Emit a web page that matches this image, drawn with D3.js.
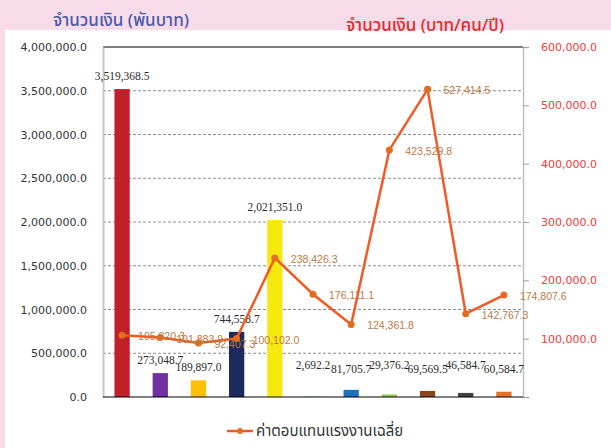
<!DOCTYPE html>
<html>
<head>
<meta charset="utf-8">
<script src="https://cdn.jsdelivr.net/npm/d3@7"></script>
<style>
  body { margin: 0; background: #f8dbe8; }
  svg { display: block; }
</style>
</head>
<body>
<div id="chart"></div>
<script>
// categories (no names shown on the chart)
var categories = ["1", "2", "3", "4", "5", "6", "7", "8", "9", "10", "11"];
// bars: amount in thousand baht
var amounts = [3519368.5, 273048.7, 189897.0, 744558.7, 2021351.0, 2692.2, 81705.7, 29376.2, 69569.5, 46584.7, 60584.7];
// line: average compensation (baht/person/year)
var wages = [105820.3, 101883.9, 92407.3, 100102.0, 238426.3, 176111.1, 124361.8, 423529.8, 527414.5, 142767.3, 174807.6];
var barColors = ["#c1202b", "#7030a0", "#ffc000", "#1f2a5c", "#f5e90f", "#1f6fbf", "#1f6fbf", "#92d050", "#8b461f", "#404040", "#e8702a"];
var leftTicks = [0, 500000, 1000000, 1500000, 2000000, 2500000, 3000000, 3500000, 4000000];
var rightTicks = [100000, 200000, 300000, 400000, 500000, 600000];

var width = 611, height = 448;
var margin = {top: 47, right: 88, bottom: 51, left: 103};
var thai = "'Noto Sans Thai', 'Noto Sans', 'DejaVu Sans', sans-serif";

var svg = d3.select("#chart").append("svg")
    .attr("width", width)
    .attr("height", height);

// white panel
svg.append("rect")
    .attr("x", 5).attr("y", 30)
    .attr("width", width - 5).attr("height", height - 30)
    .attr("fill", "#fff");

var x = d3.scaleBand()
    .domain(categories)
    .range([margin.left, width - margin.right])
    .paddingInner(0.6)
    .paddingOuter(0.3);

var y = d3.scaleLinear()
    .domain([0, 4000000])
    .range([height - margin.bottom, margin.top]);

var y2 = d3.scaleLinear()
    .domain([0, 600000])
    .range([height - margin.bottom, margin.top]);

var fmt = d3.format(",.1f");

// gridlines
svg.append("g").selectAll("line")
    .data(leftTicks.filter(function(d) { return d > 0 && d < 4000000; }))
    .enter().append("line")
    .attr("x1", margin.left).attr("x2", width - margin.right)
    .attr("y1", function(d) { return y(d); })
    .attr("y2", function(d) { return y(d); })
    .attr("stroke", "#8c8c8c")
    .attr("stroke-dasharray", "3,2");

// top border
svg.append("line")
    .attr("x1", margin.left).attr("x2", width - margin.right)
    .attr("y1", y(4000000)).attr("y2", y(4000000))
    .attr("stroke", "#000");

// left axis
var yAxis = svg.append("g")
    .attr("transform", "translate(" + margin.left + ",0)")
    .call(d3.axisLeft(y).tickValues(leftTicks).tickFormat(fmt).tickSize(0).tickPadding(16));
yAxis.select(".domain").attr("stroke", "#c8c8c8").attr("stroke-width", 2);
yAxis.selectAll("text")
    .attr("fill", "#333")
    .style("font-family", "'DejaVu Sans', sans-serif")
    .style("font-size", "11px");

// right axis
var y2Axis = svg.append("g")
    .attr("transform", "translate(" + (width - margin.right) + ",0)")
    .call(d3.axisRight(y2).tickValues([0].concat(rightTicks)).tickFormat(fmt).tickSize(6).tickPadding(12));
y2Axis.select(".domain").attr("stroke", "#c0c0c0").attr("stroke-width", 1.5);
y2Axis.selectAll(".tick line").attr("stroke", "#a0a0a0");
y2Axis.selectAll("text")
    .attr("fill", "#f03a3a")
    .style("font-family", "'DejaVu Sans', sans-serif")
    .style("font-size", "11px")
    .style("display", function(d) { return d === 0 ? "none" : null; });

// bars
svg.append("g").selectAll("rect")
    .data(amounts)
    .enter().append("rect")
    .attr("x", function(d, i) { return x(categories[i]); })
    .attr("y", function(d) { return y(d); })
    .attr("width", x.bandwidth())
    .attr("height", function(d) { return y(0) - y(d); })
    .attr("fill", function(d, i) { return barColors[i]; });

// baseline
svg.append("line")
    .attr("x1", margin.left).attr("x2", width - margin.right)
    .attr("y1", y(0)).attr("y2", y(0))
    .attr("stroke", "#000");

// bar labels (small bars get staggered labels)
svg.append("g").selectAll("text")
    .data(amounts)
    .enter().append("text")
    .attr("x", function(d, i) { return x(categories[i]) + x.bandwidth() / 2; })
    .attr("y", function(d, i) { return Math.min(y(d) - 9, i % 2 ? y(0) - 28 : y(0) - 24); })
    .attr("text-anchor", "middle")
    .attr("fill", "#2b2b2b")
    .style("font-family", "'Liberation Serif', serif")
    .style("font-size", "11.5px")
    .text(function(d) { return fmt(d); });

// line
var line = d3.line()
    .x(function(d, i) { return x(categories[i]) + x.bandwidth() / 2; })
    .y(function(d) { return y2(d); });

svg.append("path")
    .datum(wages)
    .attr("d", line)
    .attr("fill", "none")
    .attr("stroke", "#f15a22")
    .attr("stroke-width", 2.5);

svg.append("g").selectAll("circle")
    .data(wages)
    .enter().append("circle")
    .attr("cx", function(d, i) { return x(categories[i]) + x.bandwidth() / 2; })
    .attr("cy", function(d) { return y2(d); })
    .attr("r", 3.5)
    .attr("fill", "#e46c1f");

svg.append("g").selectAll("text")
    .data(wages)
    .enter().append("text")
    .attr("x", function(d, i) { return x(categories[i]) + x.bandwidth() / 2 + 16; })
    .attr("y", function(d) { return y2(d) + 5; })
    .attr("fill", "#b97a45")
    .style("font-family", "'Liberation Sans', sans-serif")
    .style("font-size", "10.5px")
    .text(function(d) { return fmt(d); });

// axis titles
svg.append("text")
    .attr("x", 121).attr("y", 26)
    .attr("text-anchor", "middle")
    .attr("fill", "#4a5aa8")
    .style("font-family", thai)
    .style("font-size", "17px")
    .style("font-weight", "500")
    .text("จำนวนเงิน (พันบาท)");

svg.append("text")
    .attr("x", 425).attr("y", 31)
    .attr("text-anchor", "middle")
    .attr("fill", "#e8262b")
    .style("font-family", thai)
    .style("font-size", "17px")
    .style("font-weight", "500")
    .text("จำนวนเงิน (บาท/คน/ปี)");

// legend
var legend = svg.append("g").attr("transform", "translate(227,431)");
legend.append("line")
    .attr("x1", 0).attr("x2", 26)
    .attr("stroke", "#f15a22").attr("stroke-width", 2.5);
legend.append("circle")
    .attr("cx", 13).attr("r", 3).attr("fill", "#e46c1f");
legend.append("text")
    .attr("x", 29).attr("y", 5)
    .attr("fill", "#333")
    .style("font-family", thai)
    .style("font-size", "15px")
    .text("ค่าตอบแทนแรงงานเฉลี่ย");
</script>
</body>
</html>
